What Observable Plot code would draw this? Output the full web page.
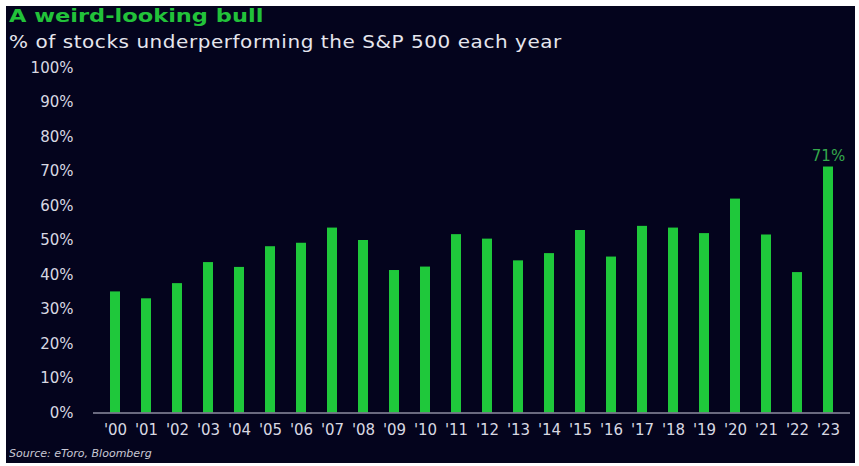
<!DOCTYPE html>
<html>
<head>
<meta charset="utf-8">
<script src="https://cdn.jsdelivr.net/npm/d3@7"></script>
<script src="https://cdn.jsdelivr.net/npm/@observablehq/plot@0.6"></script>
<style>
  body { margin: 0; background: #ffffff; width: 859px; height: 466px; overflow: hidden; font-family: "DejaVu Sans", sans-serif; }
  #panel { position: absolute; left: 6px; top: 6px; width: 849px; height: 457px; background: #04041d; overflow: hidden; }
  #title { position: absolute; left: 3px; top: -1px; font-size: 18px; line-height: 22px; font-weight: bold; color: #22c23a; white-space: nowrap; transform: scaleX(1.25); transform-origin: left center; }
  #subtitle { position: absolute; left: 3px; top: 25px; font-size: 18px; line-height: 22px; letter-spacing: 0.5px; color: #e6e6ee; white-space: nowrap; transform: scaleX(1.11); transform-origin: left center; }
  #source { position: absolute; left: 3px; top: 440px; font-size: 10.5px; line-height: 14px; font-style: italic; color: #c8c8d4; white-space: nowrap; transform: scaleX(1.05); transform-origin: left center; }
  #chart { position: absolute; left: 0; top: 44px; }
</style>
</head>
<body>
<div id="panel">
  <div id="title">A weird-looking bull</div>
  <div id="subtitle">% of stocks underperforming the S&amp;P 500 each year</div>
  <div id="chart"></div>
  <div id="source">Source: eToro, Bloomberg</div>
</div>
<script>
const years = ["'00","'01","'02","'03","'04","'05","'06","'07","'08","'09","'10","'11","'12","'13","'14","'15","'16","'17","'18","'19","'20","'21","'22","'23"];
const values = [35.1,33.1,37.5,43.6,42.2,48.2,49.2,53.6,50.0,41.3,42.3,51.7,50.4,44.1,46.2,52.9,45.2,54.1,53.6,52.0,62.0,51.6,40.7,71.3];
const yTicks = [0,10,20,30,40,50,60,70,80,90,100];
const highlightYear = "'23";
const highlightLabel = "71%";

const data = years.map((y, i) => ({year: y, value: values[i]}));
const labelData = data.filter(d => d.year === highlightYear).map(d => ({...d, label: highlightLabel}));

const chart = Plot.plot({
  width: 849,
  height: 400,
  marginLeft: 87,
  marginRight: 5,
  marginTop: 17.5,
  marginBottom: 37.5,
  style: { background: "transparent", color: "#d8d8e2", fontFamily: "DejaVu Sans, sans-serif", fontSize: "15px" },
  x: { domain: years, paddingInner: 0.68, paddingOuter: 0.38, label: null, tickSize: 0, tickPadding: 11 },
  y: { domain: [0, 100], ticks: yTicks, tickFormat: d => d + "%", label: null, tickSize: 0, tickPadding: 20 },
  marks: [
    Plot.barY(data, { x: "year", y: "value", fill: "#1fc83b" }),
    Plot.ruleY([0], { stroke: "#8c8ca0", strokeWidth: 1.5 }),
    Plot.text(labelData, { x: "year", y: "value", text: "label", dy: -11, fill: "#34a84c", fontSize: 15 })
  ]
});
document.getElementById("chart").appendChild(chart);
</script>
</body>
</html>
